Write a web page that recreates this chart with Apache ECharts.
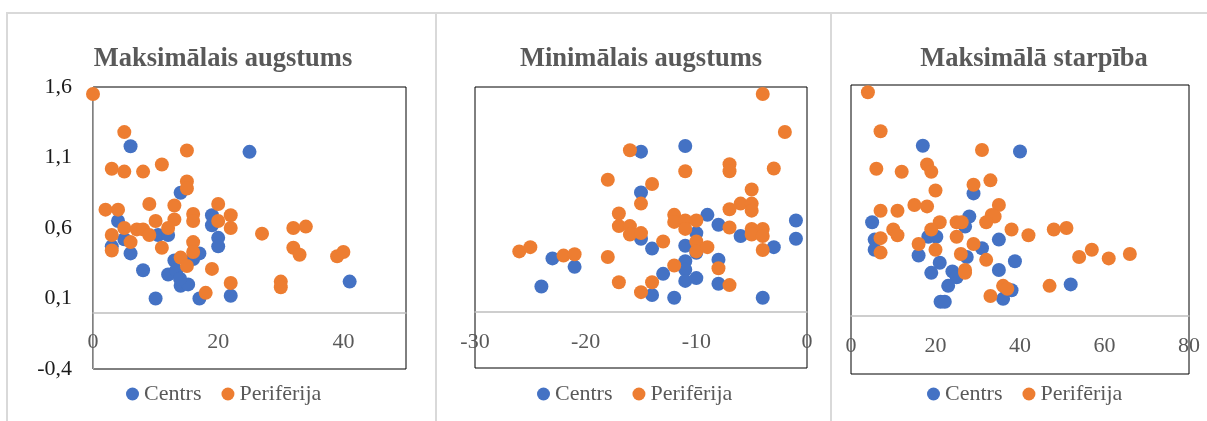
<!DOCTYPE html>
<html>
<head>
<meta charset="utf-8">
<script src="https://cdn.jsdelivr.net/npm/echarts@6/dist/echarts.min.js"></script>
<style>
html,body{margin:0;padding:0;background:#fff;}
#chart{width:1207px;height:421px;}
</style>
</head>
<body>
<div id="chart"></div>
<script>
// ---- Data ----
const titles = ['Maksimālais augstums', 'Minimālais augstums', 'Maksimālā starpība'];
const seriesNames = ['Centrs', 'Perifērija'];
const yTicks = [-0.4, 0.1, 0.6, 1.1, 1.6];
const xTicks1 = [0, 20, 40];
const xTicks2 = [-30, -20, -10, 0];
const xTicks3 = [0, 20, 40, 60, 80];

// Panel 1: Maksimālais augstums  [x, y]
const maxCentrs = [[6,1.18],[25,1.14],[14,0.85],[4,0.65],[3,0.47],[5,0.52],[6,0.42],[8,0.30],[10,0.10],[10.4,0.55],[12,0.55],[19,0.69],[19,0.62],[20,0.53],[20,0.47],[17,0.42],[16,0.38],[13,0.37],[12,0.27],[13.3,0.30],[14,0.19],[15.2,0.20],[13.9,0.24],[17,0.10],[22,0.12],[41,0.22]];
const maxPeriferija = [[0,1.55],[5,1.28],[15,1.15],[3,1.02],[5,1.0],[8,1.0],[11,1.05],[15,0.93],[15,0.88],[2,0.73],[4,0.73],[9,0.77],[13,0.76],[20,0.77],[16,0.70],[16,0.65],[22,0.69],[22,0.60],[20,0.65],[10,0.65],[13,0.66],[12,0.60],[5,0.60],[7,0.59],[8,0.59],[9,0.55],[6,0.50],[3,0.55],[3,0.44],[11,0.46],[16,0.50],[16,0.43],[14,0.39],[15,0.33],[19,0.31],[22,0.21],[18,0.14],[27,0.56],[32,0.60],[34,0.61],[32,0.46],[33,0.41],[39,0.40],[40,0.43],[30,0.22],[30,0.18]];

// Panel 2: Minimālais augstums
const minCentrs = [[-11,1.18],[-15,1.14],[-15,0.85],[-9,0.69],[-8,0.62],[-1,0.65],[-1,0.52],[-6,0.54],[-3,0.46],[-10,0.56],[-15,0.52],[-14,0.45],[-11,0.47],[-10,0.42],[-23,0.38],[-21,0.32],[-24,0.18],[-11,0.36],[-11,0.30],[-13,0.27],[-11,0.22],[-10,0.24],[-8,0.37],[-8,0.20],[-14,0.12],[-12,0.10],[-4,0.10]];
const minPeriferija = [[-4,1.55],[-2,1.28],[-16,1.15],[-11,1.0],[-7,1.05],[-7,1.0],[-3,1.02],[-18,0.94],[-14,0.91],[-5,0.87],[-15,0.77],[-6,0.77],[-5,0.77],[-5,0.72],[-7,0.73],[-17,0.70],[-12,0.69],[-12,0.64],[-11,0.65],[-10,0.65],[-11,0.59],[-17,0.61],[-16,0.61],[-16,0.55],[-15,0.56],[-7,0.60],[-5,0.59],[-4,0.59],[-5,0.55],[-4,0.54],[-4,0.44],[-13,0.50],[-10,0.50],[-10,0.43],[-9,0.46],[-26,0.43],[-25,0.46],[-22,0.40],[-21,0.41],[-18,0.39],[-12,0.33],[-8,0.31],[-17,0.21],[-14,0.21],[-15,0.14],[-7,0.19]];

// Panel 3: Maksimālā starpība
const diffCentrs = [[17,1.18],[40,1.14],[29,0.85],[5,0.65],[5.6,0.53],[5.6,0.46],[28,0.69],[27,0.62],[18.3,0.55],[20.2,0.55],[16,0.42],[35,0.53],[31,0.47],[27.4,0.41],[21,0.37],[19,0.30],[24,0.31],[25,0.27],[23,0.21],[21.2,0.10],[22.2,0.10],[35,0.32],[38.8,0.38],[38,0.18],[36,0.12],[52,0.22]];
const diffPeriferija = [[4,1.55],[7,1.28],[31,1.15],[6,1.02],[12,1.0],[18,1.05],[19,1.0],[33,0.94],[29,0.91],[20,0.87],[7,0.73],[11,0.73],[15,0.77],[18,0.76],[35,0.77],[33.3,0.70],[34,0.69],[32,0.65],[25,0.65],[26.2,0.65],[21,0.65],[19,0.60],[10,0.60],[11,0.56],[7,0.54],[38,0.60],[42,0.56],[48,0.60],[51,0.61],[25,0.55],[16,0.50],[20,0.46],[29,0.50],[26,0.43],[27,0.32],[27,0.30],[32,0.39],[7,0.44],[54,0.41],[57,0.46],[61,0.40],[66,0.43],[36,0.21],[37,0.19],[33,0.14],[47,0.21]];

// ---- Styling / layout ----
const FONT = '"Liberation Serif", "Times New Roman", serif';
const BLUE = '#4472C4';
const ORANGE = '#ED7D31';
const Y_MIN = -0.4, Y_MAX = 1.6;

const grids = [
  {left: 93, top: 87, width: 313, height: 282},
  {left: 475, top: 87, width: 332, height: 281},
  {left: 851, top: 85, width: 338, height: 289}
];
const xRanges = [
  {min: 0, max: 50, ticks: xTicks1},
  {min: -30, max: 0, ticks: xTicks2},
  {min: 0, max: 80, ticks: xTicks3}
];
const titleCenters = [218, 636, 1029];
const legendLefts = [121, 532, 922];
const panelData = [
  [maxCentrs, maxPeriferija],
  [minCentrs, minPeriferija],
  [diffCentrs, diffPeriferija]
];

const fmt = v => String(Math.round(v * 10) / 10).replace('.', ',');

const option = {
  backgroundColor: '#fff',
  animation: false,
  title: titles.map((t, i) => ({
    text: t,
    left: titleCenters[i],
    top: 41,
    textAlign: 'center',
    textStyle: {fontFamily: FONT, fontWeight: 'bold', fontSize: 26.5, color: '#595959'}
  })),
  legend: legendLefts.map(l => ({
    data: seriesNames,
    left: l,
    top: 378,
    icon: 'circle',
    itemWidth: 13,
    itemHeight: 13,
    itemGap: 20,
    selectedMode: false,
    textStyle: {fontFamily: FONT, fontSize: 22, color: '#595959'}
  })),
  grid: grids.map(g => ({
    left: g.left, top: g.top, width: g.width, height: g.height,
    show: true, borderColor: '#000', borderWidth: 1, containLabel: false
  })),
  xAxis: xRanges.map((r, i) => ({
    type: 'value',
    gridIndex: i,
    min: r.min,
    max: r.max,
    // the axis crosses the value axis at 0
    offset: -grids[i].height * (0 - Y_MIN) / (Y_MAX - Y_MIN),
    axisLine: {show: true, onZero: false, lineStyle: {color: '#bfbfbf', width: 1.5}},
    axisTick: {show: false},
    splitLine: {show: false},
    axisLabel: {
      customValues: r.ticks,
      margin: 19,
      fontFamily: FONT,
      fontSize: 22,
      color: '#595959',
      formatter: v => fmt(v)
    }
  })),
  yAxis: [0, 1, 2].map(i => ({
    type: 'value',
    gridIndex: i,
    min: Y_MIN,
    max: Y_MAX,
    axisLine: {show: i === 0, onZero: false, lineStyle: {color: '#a6a6a6', width: 1}},
    axisTick: {show: false},
    splitLine: {show: false},
    axisLabel: {
      show: i === 0,
      customValues: yTicks,
      margin: 21,
      fontFamily: FONT,
      fontSize: 22,
      color: '#1a1a1a',
      formatter: v => fmt(v)
    }
  })),
  series: [],
  graphic: [
    {type: 'rect', shape: {x: 7, y: 13, width: 429, height: 430}, style: {fill: 'none', stroke: '#d9d9d9', lineWidth: 2}, silent: true, z: -10},
    {type: 'rect', shape: {x: 436, y: 13, width: 395, height: 430}, style: {fill: 'none', stroke: '#d9d9d9', lineWidth: 2}, silent: true, z: -10},
    {type: 'rect', shape: {x: 831, y: 13, width: 400, height: 430}, style: {fill: 'none', stroke: '#d9d9d9', lineWidth: 2}, silent: true, z: -10}
  ]
};

panelData.forEach((pair, i) => {
  pair.forEach((data, k) => {
    option.series.push({
      name: seriesNames[k],
      type: 'scatter',
      xAxisIndex: i,
      yAxisIndex: i,
      data: data,
      symbol: 'circle',
      symbolSize: 14,
      clip: false,
      itemStyle: {color: k === 0 ? BLUE : ORANGE, opacity: 1},
      emphasis: {disabled: true},
      z: 2 + k
    });
  });
});

const chart = echarts.init(document.getElementById('chart'), null, {renderer: 'canvas'});
chart.setOption(option);
</script>
</body>
</html>
